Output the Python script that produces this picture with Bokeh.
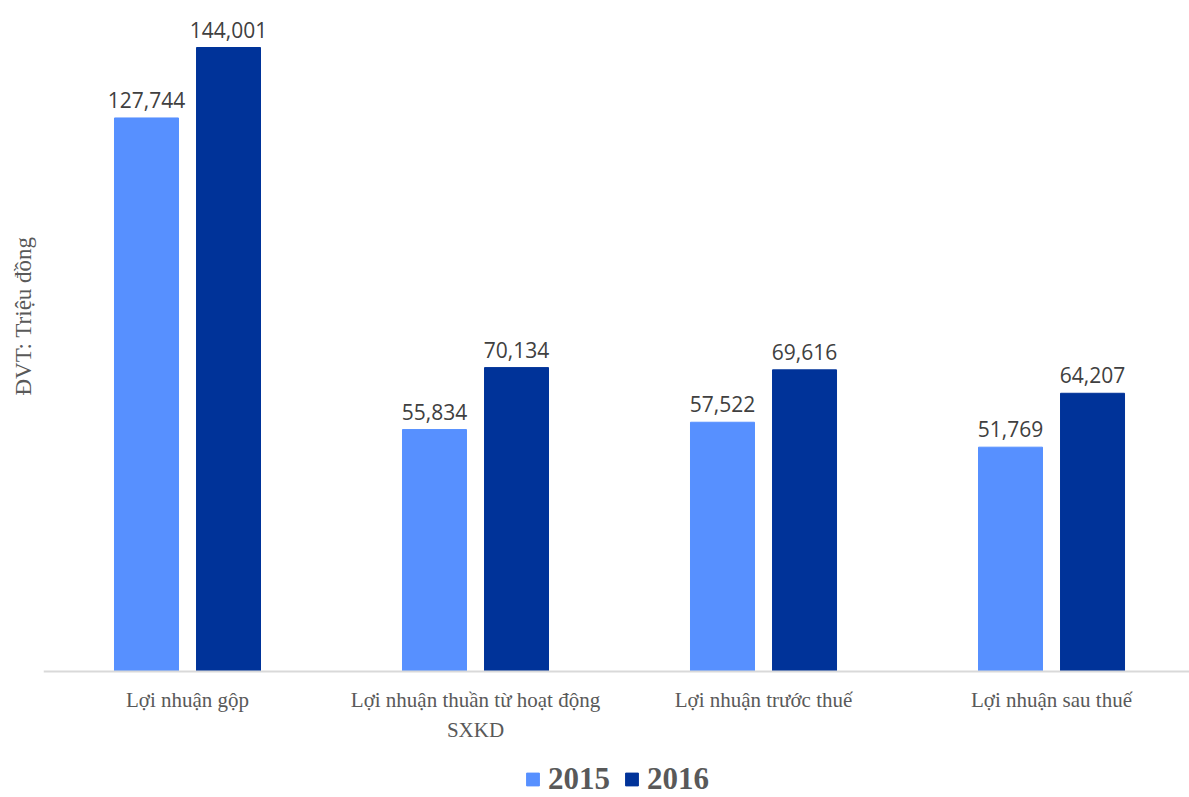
import math
from bokeh.plotting import figure
from bokeh.models import ColumnDataSource, Range1d, Legend, LegendItem, Title, Span
from bokeh.core.properties import value
from bokeh.transform import dodge
from bokeh.embed import file_html
from bokeh.resources import INLINE

categories = ["Lợi nhuận gộp", "Lợi nhuận thuần từ hoạt động\nSXKD",
              "Lợi nhuận trước thuế", "Lợi nhuận sau thuế"]
years = ["2015", "2016"]
values_2015 = [127744, 55834, 57522, 51769]
values_2016 = [144001, 70134, 69616, 64207]
colors = ["#5790FF", "#003399"]
y_title = "ĐVT: Triệu đồng"

idx = list(range(len(categories)))
src = ColumnDataSource(dict(
    idx=idx,
    cat=categories,
    base=[0] * len(categories),
    v2015=values_2015,
    v2016=values_2016,
    l2015=[f"{v:,}" for v in values_2015],
    l2016=[f"{v:,}" for v in values_2016],
))

p = figure(frame_width=1147, frame_height=797,
           x_range=Range1d(-0.5, 3.4826), y_range=Range1d(-29077, 154850),
           output_backend="svg", toolbar_location=None,
           x_axis_location=None, y_axis_location=None,
           min_border_left=42, min_border_right=0, min_border_top=0,
           min_border_bottom=0)
p.outline_line_color = None
p.grid.visible = False
p.background_fill_color = "white"
p.border_fill_color = "white"

off = 0.1424
bw = 0.2222
r1 = p.vbar(x=dodge("idx", -off, range=p.x_range), top="v2015", bottom="base",
            width=bw, source=src, fill_color=colors[0], line_color=colors[0])
r2 = p.vbar(x=dodge("idx", off, range=p.x_range), top="v2016", bottom="base",
            width=bw, source=src, fill_color=colors[1], line_color=colors[1])

# category axis baseline
p.add_layout(Span(location=0, dimension="width", line_color="#d9d9d9",
                  line_width=2))

# category labels under the baseline
p.text(x="idx", y="base", text="cat", source=src, text_align="center",
       text_baseline="top", y_offset=16, text_line_height=1.28,
       text_font=value("Liberation Serif"), text_font_size="21px",
       text_color="#595959")

# data labels
for col, o in (("2015", -off), ("2016", off)):
    p.text(x=dodge("idx", o, range=p.x_range), y="v" + col, text="l" + col,
           source=src, text_align="center", text_baseline="alphabetic",
           y_offset=-18, text_font=value("Open Sans"), text_font_size="21px",
           text_color="#404040")

p.add_layout(Title(text=y_title, align="left", offset=402, standoff=16,
                   text_font="Liberation Serif", text_font_size="23px",
                   text_font_style="normal", text_color="#595959"), "left")

legend = Legend(items=[LegendItem(label=years[0], renderers=[r1]),
                       LegendItem(label=years[1], renderers=[r2])],
                orientation="horizontal", location="bottom_center",
                glyph_width=16, glyph_height=16, label_standoff=8, spacing=13,
                padding=0, margin=0, border_line_color=None,
                background_fill_alpha=0,
                label_text_font="Liberation Serif", label_text_font_style="bold",
                label_text_font_size="31px", label_text_color="#595959")
p.add_layout(legend, "center")

open("out.html", "w").write(file_html(p, INLINE))
